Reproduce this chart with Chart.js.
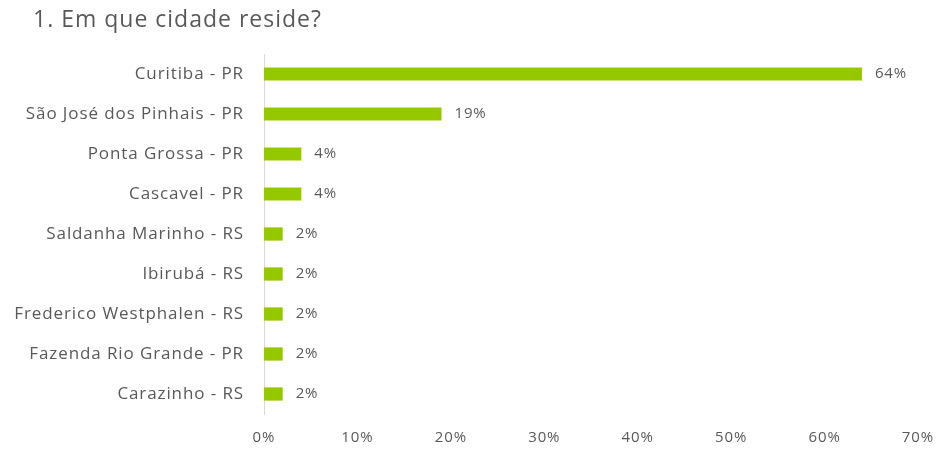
<!DOCTYPE html>
<html>
<head>
<meta charset="utf-8">
<script src="https://cdn.jsdelivr.net/npm/chart.js@4.4.1/dist/chart.umd.min.js"></script>
<style>
  html, body { margin: 0; padding: 0; background: #ffffff; }
  #wrap { position: relative; width: 940px; height: 452px; }
</style>
</head>
<body>
<div id="wrap"><canvas id="chart" width="940" height="452"></canvas></div>
<script>
// Survey question and answers (share of respondents, %)
const questionTitle = '1. Em que cidade reside?';
const cities = [
  'Curitiba - PR',
  'São José dos Pinhais - PR',
  'Ponta Grossa - PR',
  'Cascavel - PR',
  'Saldanha Marinho - RS',
  'Ibirubá - RS',
  'Frederico Westphalen - RS',
  'Fazenda Rio Grande - PR',
  'Carazinho - RS'
];
const shares = [64, 19, 4, 4, 2, 2, 2, 2, 2];
const axisTicks = [0, 10, 20, 30, 40, 50, 60, 70];

const textGrey = '#595959';
const fontFamily = '"Open Sans", "Liberation Sans", sans-serif';

// Slightly open letter spacing for all canvas text
const spacing = {
  id: 'spacing',
  beforeUpdate(chart) { chart.ctx.letterSpacing = '0.9px'; },
  beforeDraw(chart) { chart.ctx.letterSpacing = '0.9px'; }
};

// Title drawn at the top-left of the canvas
const titlePlugin = {
  id: 'questionTitle',
  afterDraw(chart) {
    const ctx = chart.ctx;
    ctx.save();
    ctx.letterSpacing = '1px';
    ctx.font = '23px ' + fontFamily;
    ctx.fillStyle = textGrey;
    ctx.textAlign = 'left';
    ctx.textBaseline = 'middle';
    ctx.fillText(questionTitle, 33, 20);
    ctx.restore();
  }
};

// Percentage label at the end of each bar
const valueLabels = {
  id: 'valueLabels',
  afterDatasetsDraw(chart) {
    const ctx = chart.ctx;
    const meta = chart.getDatasetMeta(0);
    ctx.save();
    ctx.letterSpacing = '0.8px';
    ctx.font = '15px ' + fontFamily;
    ctx.fillStyle = textGrey;
    ctx.textAlign = 'left';
    ctx.textBaseline = 'middle';
    meta.data.forEach((bar, i) => {
      ctx.fillText(shares[i] + '%', bar.x + 13, bar.y);
    });
    ctx.restore();
  }
};

new Chart(document.getElementById('chart'), {
  type: 'bar',
  data: {
    labels: cities,
    datasets: [{
      data: shares,
      backgroundColor: '#96c800',
      borderWidth: 0,
      barPercentage: 0.66,
      categoryPercentage: 0.5
    }]
  },
  options: {
    indexAxis: 'y',
    responsive: false,
    animation: false,
    layout: { padding: { top: 54, right: 22, bottom: 0, left: 0 } },
    plugins: {
      legend: { display: false },
      tooltip: { enabled: false },
      title: { display: false }
    },
    scales: {
      x: {
        min: 0,
        max: 70,
        afterBuildTicks(scale) {
          scale.ticks = axisTicks.map(v => ({ value: v }));
        },
        afterFit(scale) {
          scale.height = 38;
          scale.paddingLeft = 0;
          scale.paddingRight = 0;
        },
        grid: { display: false, drawTicks: false },
        border: { display: false },
        ticks: {
          padding: 15,
          color: textGrey,
          font: { family: fontFamily, size: 15 },
          callback: v => v + '%'
        }
      },
      y: {
        afterFit(scale) {
          scale.width = 264;
          scale.paddingTop = 0;
          scale.paddingBottom = 0;
        },
        grid: { display: false, drawTicks: false },
        border: { display: true, color: '#d9d9d9', width: 1 },
        ticks: {
          padding: 20,
          color: textGrey,
          font: { family: fontFamily, size: 17 }
        }
      }
    }
  },
  plugins: [spacing, titlePlugin, valueLabels]
});
</script>
</body>
</html>
